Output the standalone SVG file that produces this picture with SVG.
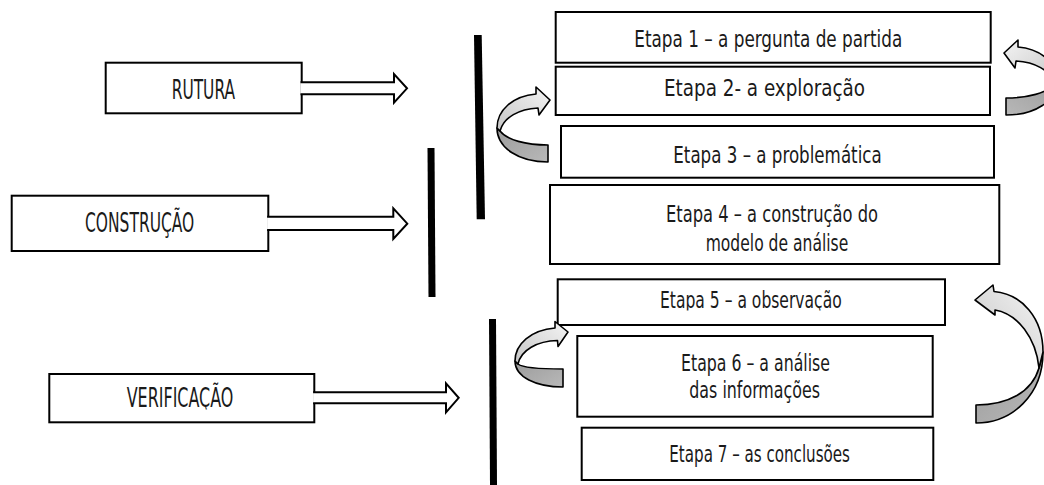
<svg xmlns="http://www.w3.org/2000/svg" width="1044" height="485" viewBox="0 0 1044 485">
<style>
.box{fill:#fff;stroke:#000;stroke-width:2}
.blk{fill:#fff;stroke:#000;stroke-width:2;stroke-linejoin:miter}
.bar{fill:#000}
.lbl{font-family:"Liberation Sans Narrow","DejaVu Sans Condensed","Liberation Sans",sans-serif;fill:#1a1a1a}
.big{font-size:26px}
.sm{font-size:22.5px}
.cl{fill:url(#gLight);stroke:#000;stroke-width:1.6;stroke-linejoin:round}
.cd{fill:url(#gDark);stroke:#000;stroke-width:1.6;stroke-linejoin:round}
</style>
<defs>
<linearGradient id="gLight" x1="1" y1="0" x2="0" y2="1">
<stop offset="0" stop-color="#f4f4f4"/>
<stop offset="1" stop-color="#c6c6c6"/>
</linearGradient>
<linearGradient id="gDark" x1="0" y1="0" x2="1" y2="1">
<stop offset="0" stop-color="#9c9c9c"/>
<stop offset="1" stop-color="#b8b8b8"/>
</linearGradient>
<clipPath id="clipVer"><rect x="0" y="360" width="330" height="49.5"/></clipPath>
<clipPath id="clipE5"><rect x="560" y="280" width="384" height="30.5"/></clipPath>
</defs>
<rect width="1044" height="485" fill="#fff"/>

<g id="rutura">
<rect class="box" x="105.7" y="62.7" width="196" height="50.6"/>
<text class="lbl big" x="171.7" y="99.3" textLength="63.3" lengthAdjust="spacingAndGlyphs">RUTURA</text>
</g>
<g id="construcao">
<rect class="box" x="11.7" y="195.7" width="256.6" height="55.3"/>
<text class="lbl big" x="85" y="232.3" textLength="109.3" lengthAdjust="spacingAndGlyphs">CONSTRUÇÃO</text>
</g>
<g id="verificacao">
<rect class="box" x="49.3" y="374" width="265" height="48.3"/>
<text class="lbl big" x="126.7" y="407.3" textLength="106.7" lengthAdjust="spacingAndGlyphs" clip-path="url(#clipVer)">VERIFICAÇÃO</text>
</g>

<g id="etapa1">
<rect class="box" x="555.7" y="12" width="435" height="50.7"/>
<text class="lbl sm" x="634.3" y="47" textLength="268" lengthAdjust="spacingAndGlyphs">Etapa 1 – a pergunta de partida</text>
</g>
<g id="etapa2">
<rect class="box" x="555.7" y="66.7" width="434.3" height="48.3"/>
<text class="lbl sm" x="664" y="95.7" textLength="201" lengthAdjust="spacingAndGlyphs">Etapa 2- a exploração</text>
</g>
<g id="etapa3">
<rect class="box" x="561" y="126" width="433" height="51.7"/>
<text class="lbl sm" x="673.3" y="163.3" textLength="208.4" lengthAdjust="spacingAndGlyphs">Etapa 3 – a problemática</text>
</g>
<g id="etapa4">
<rect class="box" x="550" y="185" width="449.3" height="79"/>
<text class="lbl sm" x="666" y="221.7" textLength="212" lengthAdjust="spacingAndGlyphs">Etapa 4 – a construção do</text>
<text class="lbl sm" x="705.7" y="250.7" textLength="142.6" lengthAdjust="spacingAndGlyphs">modelo de análise</text>
</g>
<g id="etapa5">
<rect class="box" x="557.7" y="279.3" width="387.3" height="45.7"/>
<text class="lbl sm" x="660" y="308.3" textLength="181.7" lengthAdjust="spacingAndGlyphs" clip-path="url(#clipE5)">Etapa 5 – a observação</text>
</g>
<g id="etapa6">
<rect class="box" x="577.3" y="336" width="355.4" height="80.7"/>
<text class="lbl sm" x="681" y="370.7" textLength="149" lengthAdjust="spacingAndGlyphs">Etapa 6 – a análise</text>
<text class="lbl sm" x="689.3" y="398.3" textLength="130.7" lengthAdjust="spacingAndGlyphs">das informações</text>
</g>
<g id="etapa7">
<rect class="box" x="581.7" y="427.7" width="351.6" height="52.3"/>
<text class="lbl sm" x="669.3" y="461.7" textLength="180.7" lengthAdjust="spacingAndGlyphs">Etapa 7 – as conclusões</text>
</g>

<g id="dividers">
<polygon class="bar" points="474,35 481.7,35 485,219.3 476.7,219.3"/>
<polygon class="bar" points="427.5,148 434.5,148 435.5,297 428.5,297"/>
<polygon class="bar" points="489,319 496,319 497,485 490,485"/>
</g>

<g id="connectors">
<path class="blk" d="M300.5,82.3 L394,82.3 L394,74 L407,88.3 L394,102.7 L394,94.3 L300.5,94.3"/>
<path class="blk" d="M267.1,216.7 L393.3,216.7 L393.3,208.3 L407.3,223.7 L393.3,239 L393.3,230 L267.1,230"/>
<path class="blk" d="M313.1,392.3 L446,392.3 L446,383.3 L458.7,397.8 L446,412.3 L446,403.3 L313.1,403.3"/>

<g id="curve-a">
<path class="cd" d="M497,128 C497,148 519,162 548,162 L548,145 C526,145 507,140 500,131 Z"/>
<path class="cl" d="M497,128 C497,110 513,96 536,94 L536,87 L550,100 L539,115 L538,108 C519,109 504,117 500,131 Z"/>
</g>
<g id="curve-b" transform="translate(1554,-47) scale(-1,1)">
<path class="cd" d="M497,128 C497,148 519,162 548,162 L548,145 C526,145 507,140 500,131 Z"/>
<path class="cl" d="M497,128 C497,110 513,96 536,94 L536,87 L550,100 L539,115 L538,108 C519,109 504,117 500,131 Z"/>
</g>
<g id="curve-c">
<path class="cd" d="M515,361 C515,377 536,387 563,387 L563,369 C540,369 523,368 518,364 Z"/>
<path class="cl" d="M515,361 C515,344 531,330 555,328 L555,321.5 L568,332 L558,346.5 L557.5,340.5 C537,341 521,350 518,364 Z"/>
</g>
<g id="curve-d">
<path class="cd" d="M1043,352 C1043,395 1012,423 976,423 L976,405 C1008,405 1032,392 1039,368 Z"/>
<path class="cl" d="M1043,352 C1043,318 1022,294 994,291.5 L993,285 L975,300 L995,315 L995,310 C1018,314 1036,338 1039,368 Z"/>
</g>
</g>
</svg>
